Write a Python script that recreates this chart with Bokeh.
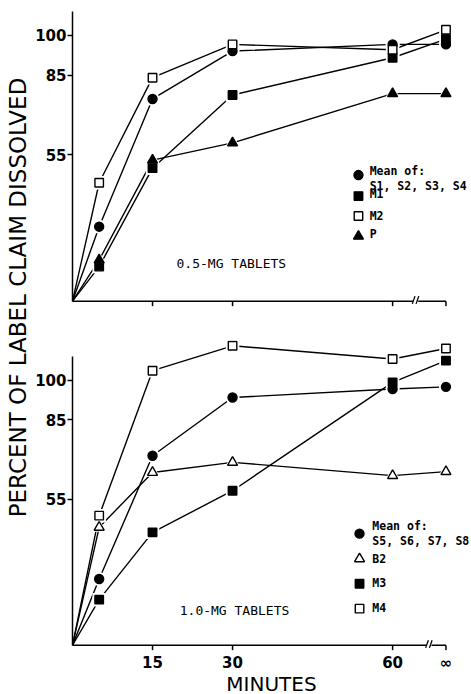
import math
from bokeh.plotting import figure
from bokeh.layouts import row, column
from bokeh.models import Range1d, FixedTicker
from bokeh.embed import file_html
from bokeh.resources import INLINE
from bokeh.core.properties import value

# ---------------- data ----------------
minutes = [0, 5, 15, 30, 60, 70]          # 70 = position of the "infinity" sample
x_ticks = [15, 30, 60, 70]
x_tick_labels = {15: "15", 30: "30", 60: "60", 70: "\u221e"}
y_ticks = [55, 85, 100]

# 0.5-mg tablets
top_S = [0, 28, 76, 94, 96.5, 96.5]       # mean of S1, S2, S3, S4
top_M1 = [0, 13, 50, 77.5, 91.5, 98.5]
top_M2 = [0, 44.5, 84, 96.5, 94.5, 102]
top_P = [0, 15.5, 53, 59.5, 78, 78]

# 1.0-mg tablets
bot_S = [0, 25, 71.5, 93.5, 96.7, 97.5]   # mean of S5, S6, S7, S8
bot_B2 = [0, 44.5, 65.2, 69, 64, 65.5]
bot_M3 = [0, 17.2, 42.6, 58.3, 99.2, 107.4]
bot_M4 = [0, 48.9, 103.6, 113, 108, 112]

top_series = [("circle", True, top_S), ("square", True, top_M1),
              ("square", False, top_M2), ("triangle", True, top_P)]
bot_series = [("square", True, bot_M3), ("circle", True, bot_S),
              ("triangle", False, bot_B2), ("square", False, bot_M4)]

top_legend = [("circle", True, ["Mean of:", "S1, S2, S3, S4"]), ("square", True, ["M1"]),
              ("square", False, ["M2"]), ("triangle", True, ["P"])]
bot_legend = [("circle", True, ["Mean of:", "S5, S6, S7, S8"]), ("triangle", False, ["B2"]),
              ("square", True, ["M3"]), ("square", False, ["M4"])]

SIZES = {"circle": 9, "square": 8.5, "triangle": 10}
SANS = "DejaVu Sans"
MONO = "DejaVu Sans Mono"
X_END = 74.6


def make_panel(series, legend, leg_y, text_y, lx_marker, lx_text, panel_text, panel_xy,
               brk, y_end, frame_h, mb_top, mb_bottom, show_x):
    p = figure(frame_width=398, frame_height=frame_h,
               x_range=Range1d(0, X_END), y_range=Range1d(-2, y_end),
               output_backend="svg", toolbar_location=None,
               min_border_left=39, min_border_right=0,
               min_border_top=mb_top, min_border_bottom=mb_bottom)
    p.outline_line_color = None
    p.grid.visible = False
    p.background_fill_color = "white"

    # y axis
    ya = p.yaxis[0]
    ya.ticker = FixedTicker(ticks=y_ticks, minor_ticks=[])
    ya.bounds = (0, 109)
    ya.axis_line_width = 1.5
    ya.axis_line_color = "black"
    ya.major_tick_line_width = 1.5
    ya.major_tick_out = 5
    ya.major_tick_in = 0
    ya.minor_tick_line_color = None
    ya.major_label_standoff = 1
    ya.major_label_text_font = SANS
    ya.major_label_text_font_style = "bold"
    ya.major_label_text_font_size = "15px"
    ya.major_label_text_color = "black"

    # x axis: line and ticks drawn at y = 0, labels by the axis
    xa = p.xaxis[0]
    if show_x:
        xa.ticker = FixedTicker(ticks=x_ticks, minor_ticks=[])
        xa.major_label_overrides = x_tick_labels
        xa.axis_line_color = None
        xa.major_tick_line_color = None
        xa.minor_tick_line_color = None
        xa.major_tick_out = 0
        xa.major_tick_in = 0
        xa.major_label_standoff = 3
        xa.major_label_text_font = SANS
        xa.major_label_text_font_style = "bold"
        xa.major_label_text_font_size = "15px"
        xa.major_label_text_color = "black"
        xa.axis_label = "MINUTES"
        xa.axis_label_text_font = SANS
        xa.axis_label_text_font_style = "normal"
        xa.axis_label_text_font_size = "20px"
        xa.axis_label_text_color = "black"
        xa.axis_label_standoff = -3
    else:
        xa.visible = False

    # axis line with break
    p.segment(x0=[0, brk + 0.5], y0=[0, 0], x1=[brk - 0.5, x_ticks[-1]], y1=[0, 0],
              line_color="black", line_width=1.5)
    p.segment(x0=[brk - 0.6, brk + 0.1], y0=[-1.0, -1.0],
              x1=[brk - 0.1, brk + 0.6], y1=[1.9, 1.9],
              line_color="black", line_width=1.3)
    p.segment(x0=x_ticks, y0=[0] * len(x_ticks), x1=x_ticks, y1=[-1.9] * len(x_ticks),
              line_color="black", line_width=1.5)

    # lines
    for marker, filled, vals in series:
        p.line(minutes, vals, line_color="black", line_width=1.4)
    # white halos to leave small gaps between lines and markers
    for marker, filled, vals in series:
        p.scatter(minutes[1:], vals[1:], marker=marker, size=SIZES[marker] + 5,
                  fill_color="white", line_color=None)
    for marker, filled, vals in series:
        p.scatter(minutes[1:], vals[1:], marker=marker, size=SIZES[marker],
                  fill_color="black" if filled else "white",
                  line_color="black", line_width=1.4)

    # legend
    for (marker, filled, lines), my, ty in zip(legend, leg_y, text_y):
        p.scatter([lx_marker], [my], marker=marker, size=SIZES[marker],
                  fill_color="black" if filled else "white",
                  line_color="black", line_width=1.4)
        for line_text, yy in zip(lines, ty):
            p.text([lx_text], [yy], text=[line_text], text_font=value(MONO),
                   text_font_style="bold", text_font_size="11.5px",
                   text_baseline="middle", text_align="left", text_color="black")

    p.text([panel_xy[0]], [panel_xy[1]], text=[panel_text], text_font=value(MONO),
           text_font_size="13px", text_baseline="middle", text_align="left",
           text_color="black")
    return p


top = make_panel(top_series, top_legend,
                 leg_y=[47.4, 39.5, 32.0, 24.4],
                 text_y=[[48.9, 43.2], [40.2], [32.0], [25.2]],
                 lx_marker=53.6, lx_text=55.7,
                 panel_text="0.5-MG TABLETS", panel_xy=(19.5, 14.3), brk=64.3,
                 y_end=110, frame_h=298, mb_top=8, mb_bottom=20, show_x=False)

bottom = make_panel(bot_series, bot_legend,
                    leg_y=[42.1, 32.6, 23.2, 13.8],
                    text_y=[[45.1, 39.4], [32.6], [23.6], [14.2]],
                    lx_marker=53.8, lx_text=56.2,
                    panel_text="1.0-MG TABLETS", panel_xy=(20.1, 13.0), brk=66.8,
                    y_end=115, frame_h=310, mb_top=14, mb_bottom=0, show_x=True)

# y-axis title spanning both panels
LAB_H = 693
lab = figure(width=32, height=LAB_H, x_range=Range1d(0, 32), y_range=Range1d(0, LAB_H),
             output_backend="svg", toolbar_location=None, min_border=0)
lab.outline_line_color = None
lab.axis.visible = False
lab.grid.visible = False
lab.text([17], [LAB_H - 297], text=["PERCENT OF LABEL CLAIM DISSOLVED"], angle=math.pi / 2,
         text_font=value(SANS), text_font_size="23px", text_align="center",
         text_baseline="middle", text_color="black")

layout = row(lab, column(top, bottom))
open("out.html", "w").write(file_html(layout, INLINE))
